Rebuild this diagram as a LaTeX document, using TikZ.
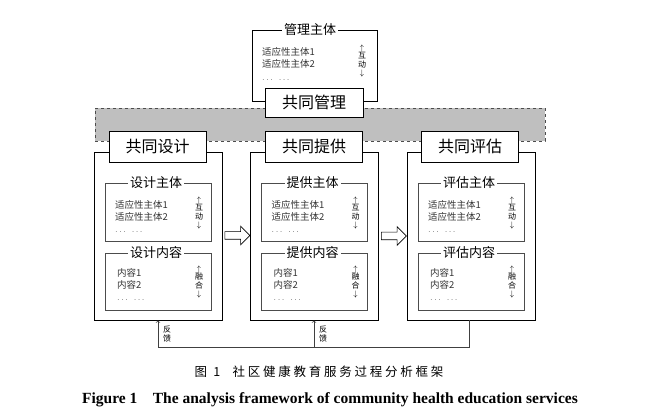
\documentclass[tikz,border=0pt]{standalone}
\usepackage{fontspec}
\setmainfont{Liberation Serif}
\newfontfamily\cjk{Noto Sans CJK SC}
\newfontfamily\cjkcap[LetterSpace=22]{Noto Sans CJK SC}
\usetikzlibrary{shapes,positioning}

\begin{document}
\begin{tikzpicture}[x=1pt, y=-1pt,
  frame/.style={draw, line width=0.8pt, minimum width=128pt, minimum height=168pt},
  headbox/.style={draw, fill=white, line width=0.8pt, minimum width=97pt, minimum height=31pt, inner sep=0pt, font=\cjk\fontsize{16}{16}\selectfont},
  subbox/.style={draw=black!70, line width=0.8pt, minimum width=106pt},
  subtitle/.style={fill=white, inner sep=2pt, font=\cjk\fontsize{13}{13}\selectfont},
  item/.style={anchor=west, inner sep=0pt, text=black!80, font=\cjk\fontsize{9.5}{12}\selectfont},
  vlabel/.style={align=center, inner sep=0pt, font=\cjk\fontsize{8}{8.5}\selectfont},
  hollow/.style={single arrow, draw, line width=0.6pt, minimum height=25pt, inner sep=3.5pt, single arrow head extend=5.5pt},
  fb/.style={draw=black!75, line width=0.7pt}]
  \useasboundingbox (0,0) rectangle (664,419);

  % management on top
  \node (band) [draw=black!70, dashed, fill=black!25, minimum width=450pt, minimum height=33pt] at (320,124.5) {};
  \node (mgmtbox) [draw, line width=0.8pt, minimum width=125pt, minimum height=71pt] at (314.5,65.5) {};
  \node (mgmttitle) [subtitle] at (310,30) {管理主体};
  \node (m1) [item] at (262,52) {适应性主体1};
  \node (m2) [item] at (262,64) {适应性主体2};
  \node (m3) [item] at (262,80) {$\ldots\ \ \ldots$};
  \node (mv) [vlabel] at (362,61) {$\uparrow$\\互\\动\\$\downarrow$};
  \node (mgmt) [headbox, minimum width=98pt, minimum height=29pt] at (314,102.5) {共同管理};

  % design
  \node (design) [frame] at (158,236) {};
  \node (designhead) [headbox] at (157.5,146.5) {共同设计};
  \node (dsub) [subbox, minimum height=58pt] at (158,212) {};
  \node (dsubt) [subtitle] at (156,183) {设计主体};
  \node (d1) [item] at (115,205) {适应性主体1};
  \node (d2) [item] at (115,217) {适应性主体2};
  \node (d3) [item] at (115,232) {$\ldots\ \ \ldots$};
  \node (dv) [vlabel] at (199,213) {$\uparrow$\\互\\动\\$\downarrow$};
  \node (dcon) [subbox, minimum height=57pt] at (158,281.5) {};
  \node (dcont) [subtitle] at (156,253) {设计内容};
  \node (d4) [item] at (117,273) {内容1};
  \node (d5) [item] at (117,285) {内容2};
  \node (d6) [item] at (117,300) {$\ldots\ \ \ldots$};
  \node (dv2) [vlabel] at (199,282) {$\uparrow$\\融\\合\\$\downarrow$};

  % provision
  \node (provide) [frame] at (314.5,236) {};
  \node (providehead) [headbox] at (314,146.5) {共同提供};
  \node (psub) [subbox, minimum height=58pt] at (314.5,212) {};
  \node (psubt) [subtitle] at (312.5,183) {提供主体};
  \node (p1) [item] at (271.5,205) {适应性主体1};
  \node (p2) [item] at (271.5,217) {适应性主体2};
  \node (p3) [item] at (271.5,232) {$\ldots\ \ \ldots$};
  \node (pv) [vlabel] at (355.5,213) {$\uparrow$\\互\\动\\$\downarrow$};
  \node (pcon) [subbox, minimum height=57pt] at (314.5,281.5) {};
  \node (pcont) [subtitle] at (312.5,253) {提供内容};
  \node (p4) [item] at (273.5,273) {内容1};
  \node (p5) [item] at (273.5,285) {内容2};
  \node (p6) [item] at (273.5,300) {$\ldots\ \ \ldots$};
  \node (pv2) [vlabel] at (355.5,282) {$\uparrow$\\融\\合\\$\downarrow$};

  % assessment
  \node (assess) [frame] at (471,236) {};
  \node (assesshead) [headbox] at (470,146.5) {共同评估};
  \node (asub) [subbox, minimum height=58pt] at (471,212) {};
  \node (asubt) [subtitle] at (469,183) {评估主体};
  \node (a1) [item] at (428,205) {适应性主体1};
  \node (a2) [item] at (428,217) {适应性主体2};
  \node (a3) [item] at (428,232) {$\ldots\ \ \ldots$};
  \node (av) [vlabel] at (512,213) {$\uparrow$\\互\\动\\$\downarrow$};
  \node (acon) [subbox, minimum height=57pt] at (471,281.5) {};
  \node (acont) [subtitle] at (469,253) {评估内容};
  \node (a4) [item] at (430,273) {内容1};
  \node (a5) [item] at (430,285) {内容2};
  \node (a6) [item] at (430,300) {$\ldots\ \ \ldots$};
  \node (av2) [vlabel] at (512,282) {$\uparrow$\\融\\合\\$\downarrow$};

  % flow between the stages
  \node (arr1) [hollow] at (235.5,235.5) {};
  \node (arr2) [hollow] at (392,236) {};

  % feedback
  \coordinate (fbL) at (158,347);
  \coordinate (fbM) at (314,347);
  \coordinate (fbR) at (469,347);
  \draw[fb] (fbR |- assess.south) -- (fbR) -- (fbL);
  \draw[fb, ->] (fbL) -- (fbL |- design.south);
  \draw[fb, ->] (fbM) -- (fbM |- provide.south);
  \node (fbtext1) [vlabel] at (167,334) {反\\馈};
  \node (fbtext2) [vlabel] at (323,334) {反\\馈};

  % captions
  \node (capcn) at (319,372) {\cjkcap\fontsize{12.5}{12.5}\selectfont 图\enspace 1\quad 社区健康教育服务过程分析框架};
  \node (capen) at (330,400) {\bfseries\fontsize{15.5}{16}\selectfont Figure 1\quad The analysis framework of community health education services};
\end{tikzpicture}
\end{document}
